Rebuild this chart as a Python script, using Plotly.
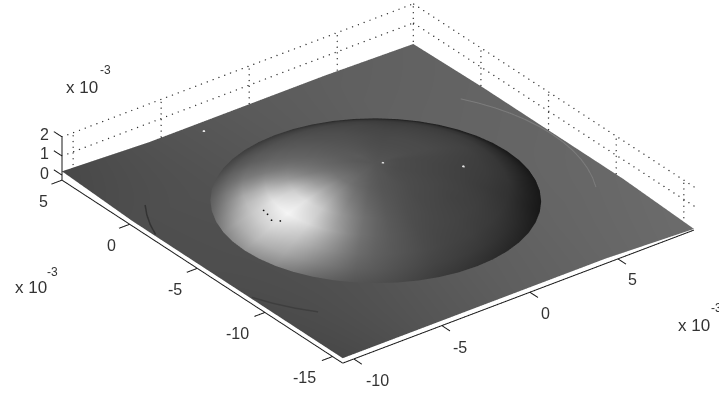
import numpy as np
import plotly.graph_objects as go

# axis limits and ticks, in units of 1e-3
x_lim = [-10.63, 9.32]
y_lim = [-15.75, 5.0]
z_lim = [-0.26, 2.05]
x_ticks = [-10, -5, 0, 5]
y_ticks = [5, 0, -5, -10, -15]
z_ticks = [0, 1, 2]

# flat plate
floor_x = [-10.63, -5.65, -0.66, 4.33, 9.32]
floor_y = [-15.75, -10.56, -5.38, -0.19, 5.0]
floor_z = [
    [0.0, 0.0, 0.0, 0.0, -0.2],
    [0.0, 0.0, 0.0, 0.0, 0.0],
    [0.0, 0.0, 0.0, 0.0, 0.0],
    [0.0, 0.0, 0.0, 0.0, 0.0],
    [0.2, 0.0, 0.0, 0.0, -0.1],
]
floor_shade = [
    [72, 85, 95, 102, 108],
    [75, 82, 92, 100, 105],
    [78, 80, 90, 100, 102],
    [78, 82, 90, 98, 100],
    [72, 82, 90, 95, 98],
]

# dome
dome_center = [-0.8, -5.4]
dome_radii = [0, 1, 2, 3, 4, 5, 6, 6.75, 7.45]
dome_height = [2.0, 1.96, 1.86, 1.68, 1.42, 1.10, 0.70, 0.36, 0.03]
dome_angles = [7.5 * k for k in range(49)]
dome_shade = [
    [85, 80, 76, 74, 70, 66, 58, 44, 24],
    [85, 80, 76, 74, 70, 66, 60, 48, 25],
    [85, 80, 76, 74, 70, 66, 61, 52, 26],
    [85, 80, 76, 74, 70, 66, 61, 52, 26],
    [85, 80, 76, 74, 70, 66, 61, 52, 26],
    [85, 80, 76, 74, 70, 66, 61, 52, 28],
    [85, 80, 76, 73, 70, 65, 60, 50, 30],
    [85, 81, 77, 74, 71, 67, 62, 52, 32],
    [85, 82, 78, 76, 72, 70, 65, 55, 35],
    [85, 83, 80, 78, 75, 72, 67, 58, 40],
    [85, 85, 82, 80, 78, 74, 70, 60, 45],
    [85, 86, 84, 82, 80, 77, 73, 64, 50],
    [85, 88, 86, 84, 82, 80, 76, 68, 55],
    [85, 90, 88, 87, 86, 84, 80, 72, 58],
    [85, 90, 90, 90, 90, 88, 84, 76, 62],
    [85, 90, 92, 94, 95, 94, 90, 82, 67],
    [85, 90, 95, 98, 100, 100, 95, 88, 72],
    [85, 90, 98, 104, 108, 110, 108, 98, 80],
    [85, 92, 100, 110, 120, 124, 122, 108, 88],
    [85, 94, 104, 118, 136, 148, 145, 122, 94],
    [85, 95, 108, 126, 155, 178, 170, 136, 102],
    [85, 96, 112, 140, 182, 205, 188, 152, 116],
    [85, 97, 116, 152, 205, 228, 200, 170, 132],
    [85, 98, 118, 160, 216, 238, 208, 176, 140],
    [85, 98, 120, 168, 225, 245, 212, 184, 146],
    [85, 98, 118, 162, 212, 232, 202, 176, 142],
    [85, 98, 116, 155, 200, 218, 192, 168, 136],
    [85, 96, 110, 140, 175, 192, 172, 150, 122],
    [85, 95, 105, 124, 150, 164, 150, 130, 106],
    [85, 92, 100, 114, 130, 138, 128, 114, 95],
    [85, 90, 94, 102, 112, 114, 108, 98, 85],
    [85, 88, 90, 95, 100, 100, 96, 90, 80],
    [85, 86, 86, 88, 90, 90, 88, 82, 74],
    [85, 85, 84, 84, 84, 83, 81, 75, 67],
    [85, 84, 82, 80, 78, 76, 74, 68, 60],
    [85, 82, 80, 77, 75, 72, 69, 64, 55],
    [85, 80, 78, 74, 72, 70, 66, 60, 50],
    [85, 79, 76, 73, 70, 68, 64, 56, 45],
    [85, 78, 75, 72, 68, 66, 60, 52, 40],
    [85, 77, 74, 71, 66, 64, 58, 48, 36],
    [85, 76, 73, 70, 66, 62, 55, 44, 32],
    [85, 76, 72, 69, 65, 60, 52, 40, 28],
    [85, 76, 72, 68, 64, 58, 50, 36, 24],
    [85, 76, 72, 68, 64, 59, 50, 36, 24],
    [85, 76, 72, 68, 64, 60, 52, 36, 24],
    [85, 76, 72, 69, 65, 61, 53, 38, 24],
    [85, 76, 73, 70, 66, 62, 54, 40, 24],
    [85, 78, 75, 72, 68, 64, 56, 42, 24],
    [85, 80, 76, 74, 70, 66, 58, 44, 24],
]

# faint outer ring segments on the plate
light_arc_radius = 10.0
light_arc_angles = [30, 25, 20, 15, 10, 5, 0, -5, -10, -15, -20, -25, -30]
dark_arc_radius = 10.4
dark_arc1_angles = [145, 150, 155, 160]
dark_arc2_angles = [200, 206, 212, 218]

# isolated specks
white_x = [-3.15, 2.73, -0.55]
white_y = [4.25, -7.28, -5.6]
white_z = [0.03, 1.45, 2.0]
black_x = [-6.28, -6.35, -6.49, -6.3]
black_y = [-4.24, -4.62, -5.1, -5.5]
black_z = [0.9, 0.9, 0.86, 0.94]

GRAY = [[0, "#000000"], [1, "#ffffff"]]
FLAT = dict(ambient=1, diffuse=0, specular=0, roughness=1, fresnel=0)
AXIS = "#1a1a1a"
TICK_LEN = 0.6
PAD_XY = 0.8
PAD_Z = 0.1
DOT_STEP = dict(x=0.33, y=0.37, z=0.3)

fig = go.Figure()


def add_line(xs, ys, zs, color=AXIS, width=2):
    fig.add_trace(go.Scatter3d(x=xs, y=ys, z=zs, mode="lines",
                               line=dict(color=color, width=width),
                               hoverinfo="skip", showlegend=False))


dots_x, dots_y, dots_z = [], [], []


def add_dotted(axis, lo, hi, a, b):
    pts = np.arange(lo, hi, DOT_STEP[axis])
    n = len(pts)
    if axis == "x":
        dots_x.extend(pts); dots_y.extend([a] * n); dots_z.extend([b] * n)
    elif axis == "y":
        dots_x.extend([a] * n); dots_y.extend(pts); dots_z.extend([b] * n)
    else:
        dots_x.extend([a] * n); dots_y.extend([b] * n); dots_z.extend(pts)


fig.add_trace(go.Surface(x=floor_x, y=floor_y, z=floor_z, surfacecolor=floor_shade,
                         colorscale=GRAY, cmin=0, cmax=255, showscale=False,
                         lighting=FLAT, hoverinfo="skip"))

th = np.radians(dome_angles)
rr = np.array(dome_radii)
dome_x = dome_center[0] + np.outer(np.cos(th), rr)
dome_y = dome_center[1] + np.outer(np.sin(th), rr)
dome_z = np.tile(dome_height, (len(dome_angles), 1))
fig.add_trace(go.Surface(x=dome_x, y=dome_y, z=dome_z, surfacecolor=dome_shade,
                         colorscale=GRAY, cmin=0, cmax=255, showscale=False,
                         lighting=FLAT, hoverinfo="skip"))


def arc(radius, angles, color, width):
    a = np.radians(angles)
    add_line(dome_center[0] + radius * np.cos(a), dome_center[1] + radius * np.sin(a),
             [0.03] * len(angles), color=color, width=width)


arc(light_arc_radius, light_arc_angles, "#7c7c7c", 2)
arc(dark_arc_radius, dark_arc1_angles, "#333333", 3)
arc(dark_arc_radius, dark_arc2_angles, "#3e3e3e", 3)

fig.add_trace(go.Scatter3d(x=white_x, y=white_y, z=white_z, mode="markers",
                           marker=dict(size=1.5, color="#e8e8e8"), hoverinfo="skip", showlegend=False))
fig.add_trace(go.Scatter3d(x=black_x, y=black_y, z=black_z, mode="markers",
                           marker=dict(size=1, color="#111111"), hoverinfo="skip", showlegend=False))

# dotted grid on the two back walls
for zt in z_ticks[1:]:
    add_dotted("x", x_lim[0], x_lim[1], y_lim[1], zt)
    add_dotted("y", y_lim[0], y_lim[1], x_lim[1], zt)
for xt in x_ticks:
    add_dotted("z", z_lim[0], z_lim[1], xt, y_lim[1])
for yt in y_ticks:
    add_dotted("z", z_lim[0], z_lim[1], x_lim[1], yt)
fig.add_trace(go.Scatter3d(x=dots_x, y=dots_y, z=dots_z, mode="markers",
                           marker=dict(size=0.8, color="#333333"), hoverinfo="skip", showlegend=False))

# solid axes
add_line(x_lim, [y_lim[0]] * 2, [z_lim[0]] * 2)
add_line([x_lim[0]] * 2, y_lim, [z_lim[0]] * 2)
add_line([x_lim[0]] * 2, [y_lim[1]] * 2, z_lim)

labels = []
for xt, sx, sy in zip(x_ticks, [24, 18, 16, 15], [-22, -22, -21, -21]):
    add_line([xt] * 2, [y_lim[0], y_lim[0] - TICK_LEN], [z_lim[0]] * 2)
    labels.append(dict(x=xt, y=y_lim[0], z=z_lim[0], text=str(xt), xshift=sx, yshift=sy))
for yt, sx in zip(y_ticks, [-18, -18, -22, -27, -28]):
    add_line([x_lim[0], x_lim[0] - TICK_LEN], [yt] * 2, [z_lim[0]] * 2)
    labels.append(dict(x=x_lim[0], y=yt, z=z_lim[0], text=str(yt), xshift=sx, yshift=-21))
for zt in z_ticks:
    add_line([x_lim[0]] * 2, [y_lim[1], y_lim[1] + TICK_LEN], [zt] * 2)
    labels.append(dict(x=x_lim[0], y=y_lim[1], z=zt, text=str(zt), xshift=-17, yshift=2))

TEXT = dict(family="Liberation Sans", size=16, color="#333333")
for item in labels:
    item.update(showarrow=False, xanchor="center", yanchor="middle", font=TEXT)

W, H = 719, 396
paper = []
for text, px, py, size in [("x 10", 64, 87, 17), ("-3", 105, 70, 12),
                           ("x 10", 13, 287, 17), ("-3", 52, 272, 12),
                           ("x 10", 676, 325, 17), ("-3", 716, 308, 12)]:
    paper.append(dict(text=text, x=px / W, y=1 - py / H,
                      xref="paper", yref="paper", showarrow=False,
                      xanchor="left" if text != "-3" else "center", yanchor="middle",
                      font=dict(family="Liberation Sans", size=size, color="#333333")))

hidden = dict(visible=False, showgrid=False, zeroline=False, showspikes=False, autorange=False)
d = 2.0
k = 2.53
fx = (x_lim[1] - x_lim[0] + 2 * PAD_XY) / (x_lim[1] - x_lim[0])
fy = (y_lim[1] - y_lim[0] + 2 * PAD_XY) / (y_lim[1] - y_lim[0])
fz = (z_lim[1] - z_lim[0] + 2 * PAD_Z) / (z_lim[1] - z_lim[0])
fig.update_layout(
    width=W, height=H, margin=dict(l=0, r=0, t=0, b=0),
    paper_bgcolor="white", showlegend=False, annotations=paper,
    scene=dict(
        domain=dict(x=[0.0514, 1.0], y=[0.076, 1.0]),
        bgcolor="white",
        xaxis=dict(range=[x_lim[0] - PAD_XY, x_lim[1] + PAD_XY], **hidden),
        yaxis=dict(range=[y_lim[0] - PAD_XY, y_lim[1] + PAD_XY], **hidden),
        zaxis=dict(range=[z_lim[0] - PAD_Z, z_lim[1] + PAD_Z], **hidden),
        aspectmode="manual",
        aspectratio=dict(x=0.954 * k * fx, y=1.0 * k * fy, z=0.11 * k * fz),
        camera=dict(projection=dict(type="orthographic"),
                    up=dict(x=0, y=0, z=1),
                    center=dict(x=0, y=0, z=0),
                    eye=dict(x=-0.526 * d, y=-0.690 * d, z=0.497 * d)),
        annotations=labels,
    ),
)
fig.write_html("out.html", config=dict(displayModeBar=False),
               post_script="document.body.style.margin='0';document.body.style.overflow='hidden';")
